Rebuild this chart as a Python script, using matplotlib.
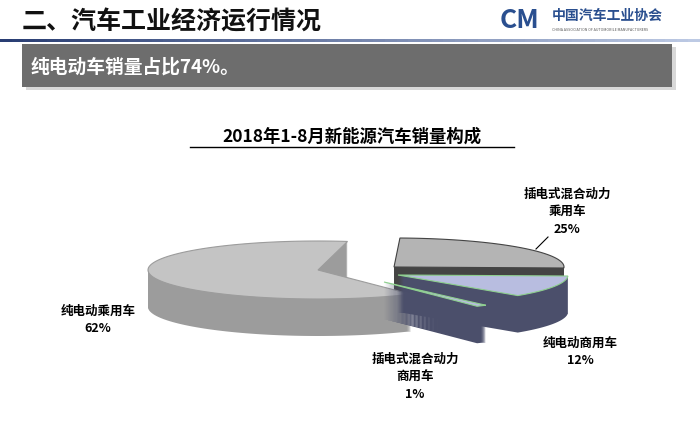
import numpy as np
import matplotlib.pyplot as plt
from matplotlib.patches import Polygon, Rectangle

plt.rcParams['font.family'] = ['Noto Sans CJK SC', 'DejaVu Sans']

labels = ['插电式混合动力\n乘用车', '纯电动商用车', '插电式混合动力\n商用车', '纯电动乘用车']
shares = [25, 12, 1, 62]
top_colors = ['#b4b4b4', '#b8bde0', '#b8bde0', '#c4c4c4']
side_colors = ['#444444', '#4b4f6b', '#4b4f6b', '#9c9c9c']
edge_colors = ['#444444', '#8ed08e', '#8ed08e', '#9c9c9c']
# wedge tip positions (pixels) - slices are pulled apart
tips = [(394, 268), (398, 276), (384, 283), (318, 271)]
label_pos = [(567, 212), (580, 352), (415, 377), (98, 320)]

W, H = 700, 435
fig = plt.figure(figsize=(7, 4.35), dpi=100)
ax = fig.add_axes([0, 0, 1, 1])
ax.set_xlim(0, W)
ax.set_ylim(H, 0)
ax.axis('off')

# header
ax.text(22, 22, '二、汽车工业经济运行情况', fontsize=18, fontweight='bold', va='center', color='#111111')
for i in range(60):
    x0 = i * W / 60
    c = np.array([0.16, 0.24, 0.45]) * (1 - i / 60) + np.array([0.75, 0.8, 0.9]) * (i / 60)
    ax.add_patch(Rectangle((x0, 40), W / 60 + 1, 3, color=c, lw=0))
ax.text(500, 20, 'CM', fontsize=19, fontweight='bold', style='italic', color='#2a4f8f', va='center')
ax.text(552, 16, '中国汽车工业协会', fontsize=10, fontweight='bold', color='#2a4f8f', va='center')
ax.text(552, 30, 'CHINA ASSOCIATION OF AUTOMOBILE MANUFACTURERS', fontsize=2.6, color='#555555', va='center')
ax.add_patch(Rectangle((26, 48), 650, 43, color='#d8d8d8', lw=0))
ax.add_patch(Rectangle((22, 45), 650, 43, color='#6d6d6d', lw=0))
ax.text(31, 67, '纯电动车销量占比74%。', fontsize=13.5, fontweight='bold', color='white', va='center')

ax.text(352, 137, '2018年1-8月新能源汽车销量构成', fontsize=12.5, fontweight='bold', ha='center', va='center')
ax.plot([190, 514], [148, 148], color='black', lw=1)

# pseudo 3D pie: right group starts at 88 deg clockwise, big slice has its own span
rx, ry, depth = 170, 29, 37
angles = []
a = 88.0
for s in shares[:3]:
    angles.append((a - s * 3.6, a))
    a -= s * 3.6
angles.append((80.0, 80.0 + shares[3] * 3.6))
angles[2] = (angles[2][0] - 8, angles[2][1] - 8)

def wedge_pts(cx, cy, t1, t2, dy=0):
    t = np.radians(np.linspace(t1, t2, 120))
    xs = np.concatenate([[cx], cx + rx * np.cos(t), [cx]])
    ys = np.concatenate([[cy], cy - ry * np.sin(t), [cy]]) + dy
    return np.column_stack([xs, ys])

for i in [0, 3, 1, 2]:
    cx, cy = tips[i]
    t1, t2 = angles[i]
    for d in np.arange(depth, 0, -1.0):
        ax.add_patch(Polygon(wedge_pts(cx, cy, t1, t2, d), closed=True, fc=side_colors[i], ec='none'))
    ax.add_patch(Polygon(wedge_pts(cx, cy, t1, t2), closed=True, fc=top_colors[i],
                         ec=edge_colors[i], lw=0.8))

for i, (lx, ly) in enumerate(label_pos):
    ax.text(lx, ly, labels[i] + '\n%d%%' % shares[i], fontsize=9, fontweight='bold',
            ha='center', va='center', linespacing=1.5)
ax.plot([536, 548], [250, 238], color='black', lw=0.8)

fig.savefig('out.png', dpi=100)
